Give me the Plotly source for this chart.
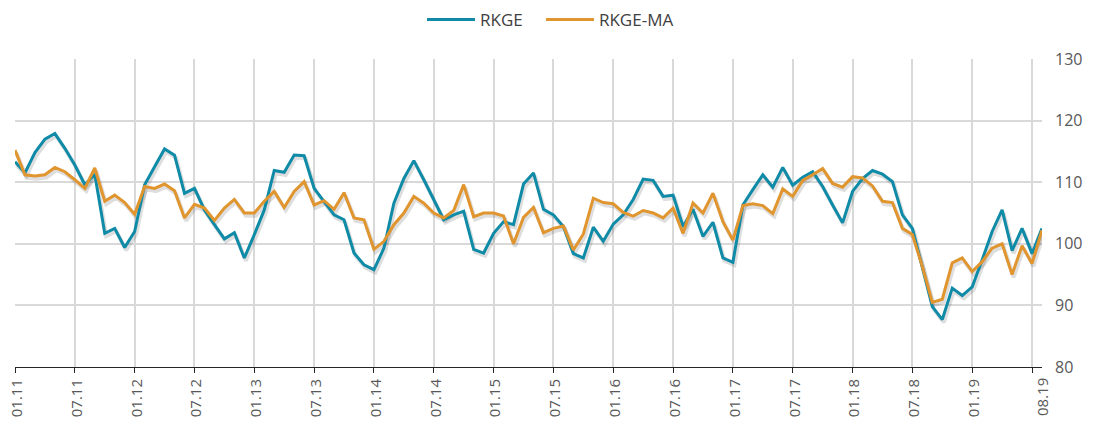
import plotly.graph_objects as go

months = [f"{m:02d}.{y:02d}" for y in range(11, 20) for m in range(1, 13)][:104]

rkge = [113.3, 111.5, 114.8, 117.0, 117.9, 115.5, 112.8, 109.6, 111.3, 101.7,
        102.5, 99.4, 102.0, 109.6, 112.5, 115.4, 114.4, 108.2, 109.0, 105.5,
        103.1, 100.8, 101.8, 97.7, 101.5, 105.5, 111.9, 111.6, 114.4, 114.3,
        109.0, 106.9, 104.7, 103.9, 98.5, 96.6, 95.8, 99.3, 106.6, 110.6,
        113.5, 110.4, 107.2, 103.9, 104.7, 105.3, 99.1, 98.5, 101.7, 103.6,
        103.1, 109.7, 111.5, 105.6, 104.7, 102.8, 98.4, 97.7, 102.7, 100.4,
        103.2, 104.7, 107.2, 110.5, 110.3, 107.7, 107.9, 102.8, 105.6, 101.2,
        103.5, 97.7, 97.0, 106.3, 108.8, 111.2, 109.2, 112.4, 109.5, 110.8,
        111.7, 109.3, 106.3, 103.4, 108.5, 110.6, 111.9, 111.3, 110.1, 104.7,
        102.5, 96.3, 89.8, 87.7, 92.8, 91.6, 93.0, 97.4, 102.0, 105.5,
        98.9, 102.5, 98.4, 102.5]

rkge_ma = [115.2, 111.2, 111.0, 111.2, 112.4, 111.7, 110.4, 109.0, 112.3, 106.9,
           107.9, 106.7, 104.8, 109.3, 109.0, 109.7, 108.6, 104.2, 106.4, 105.8,
           103.8, 105.8, 107.2, 105.0, 105.0, 106.9, 108.5, 105.9, 108.5, 110.1,
           106.3, 107.0, 105.6, 108.3, 104.2, 103.9, 99.1, 100.4, 103.1, 105.0,
           107.7, 106.6, 105.0, 104.2, 105.4, 109.6, 104.4, 105.0, 105.0, 104.5,
           100.0, 104.3, 105.9, 101.8, 102.5, 102.9, 99.0, 101.6, 107.4, 106.7,
           106.5, 105.1, 104.5, 105.4, 105.0, 104.2, 105.8, 101.7, 106.6, 105.0,
           108.2, 103.6, 100.6, 106.2, 106.5, 106.2, 104.9, 108.9, 107.7, 110.3,
           111.2, 112.2, 109.8, 109.2, 110.9, 110.7, 109.4, 106.9, 106.7, 102.5,
           101.5, 96.3, 90.5, 91.0, 96.9, 97.7, 95.5, 97.1, 99.3, 100.0,
           95.0, 99.7, 96.8, 102.2]

y_ticks = [80, 90, 100, 110, 120, 130]

TEAL = "#0F8BA7"
ORANGE = "#E0952F"

x = list(range(len(months)))
last = len(months) - 1

# The page body has an 8px default margin, so the figure is sized to fit inside it.
W, H = 1077, 414

fig = go.Figure()

# soft drop shadows (Excel style), derived from the data
for vals in (rkge, rkge_ma):
    fig.add_trace(go.Scatter(
        x=[v + 0.15 for v in x], y=[v - 0.45 for v in vals], mode="lines",
        line=dict(color="rgba(0,0,0,0.13)", width=4),
        showlegend=False, hoverinfo="skip"))

fig.add_trace(go.Scatter(x=x, y=rkge, mode="lines", name="RKGE\u00a0\u00a0\u00a0",
                         line=dict(color=TEAL, width=3)))
fig.add_trace(go.Scatter(x=x, y=rkge_ma, mode="lines", name="RKGE-MA",
                         line=dict(color=ORANGE, width=3)))

tickvals = list(range(0, last, 6))
ticktext = [months[i] if i < last - 1 else "" for i in tickvals]

fig.update_layout(
    width=W, height=H,
    margin=dict(l=7, r=43, t=51, b=55),
    paper_bgcolor="white", plot_bgcolor="white",
    font=dict(family="Open Sans", color="#595959", size=16),
    showlegend=True,
    legend=dict(orientation="h", xref="container", yref="container",
                x=414 / W, xanchor="left", y=1 - 12 / H, yanchor="middle",
                font=dict(size=17, color="#404040"), itemwidth=48,
                bgcolor="rgba(0,0,0,0)"),
    xaxis=dict(range=[0, last], tickvals=tickvals, ticktext=ticktext,
               tickangle=-90, showgrid=True, gridcolor="#D9D9D9", gridwidth=1.5,
               showline=True, linecolor="#262626", linewidth=1,
               ticks="outside", ticklen=5, tickcolor="#262626",
               tickfont=dict(size=15, color="#595959"), zeroline=False,
               ticklabeloverflow="allow", ticklabelshift=2, automargin=False),
    yaxis=dict(range=[80, 130], tickvals=y_ticks, side="right",
               showgrid=True, gridcolor="#D9D9D9", gridwidth=1.5,
               showline=False, zeroline=False, ticks="",
               ticklabelstandoff=12, automargin=False,
               tickfont=dict(size=16, color="#595959")),
)

fig.add_annotation(x=last, y=0, xref="x", yref="paper", text=months[last],
                   textangle=-90, showarrow=False, yanchor="top",
                   yshift=-9, xshift=0,
                   font=dict(size=15, color="#595959", family="Open Sans"))

fig.write_html("out.html")
